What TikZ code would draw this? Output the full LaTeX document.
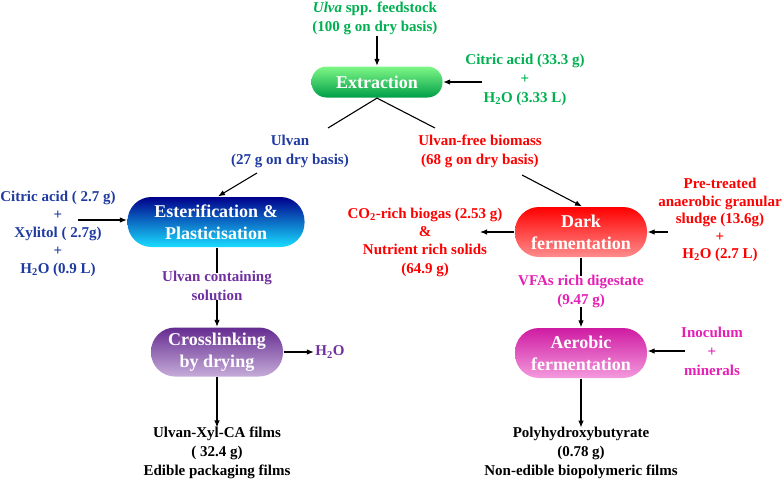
\documentclass[tikz,border=0pt]{standalone}
\usepackage{fontspec}
\setmainfont{Liberation Serif}
\usetikzlibrary{arrows.meta, positioning, calc}
\definecolor{tgreen}{HTML}{00B050}
\definecolor{tblue}{HTML}{1F3AA0}
\definecolor{tred}{HTML}{FF0000}
\definecolor{tpurple}{HTML}{7030A0}
\definecolor{tpink}{HTML}{E61EB4}
\tikzset{
  every picture/.style={line width=1.2pt},
  box/.style={rounded corners=24pt, text=white, align=center, inner sep=3pt,
    minimum width=132pt, minimum height=50pt, font=\fontsize{18}{22}\selectfont\bfseries},
  gradgreen/.style={top color=green!45!white!90!tgreen, middle color=tgreen!85!white, bottom color=tgreen!90!black},
  gradblue/.style={top color=blue!55!black, middle color=blue!40!cyan!80!black, bottom color=cyan!85!blue!90!white},
  gradred/.style={top color=red, middle color=red!95!white, bottom color=red!45!white},
  gradpurple/.style={top color=tpurple!90!black, middle color=tpurple!75!white, bottom color=tpurple!40!white},
  gradpink/.style={top color=tpink!90!black, middle color=tpink!85!white, bottom color=tpink!45!white},
  arrow/.style={-{Latex[length=7pt, width=5.5pt]}, line width=1.1pt},
  link/.style={line width=1.1pt},
  note/.style={font=\fontsize{15}{19}\selectfont\bfseries, align=center, inner sep=1pt},
}
\begin{document}
\begin{tikzpicture}[x=1pt, y=-1pt]
\useasboundingbox (0,0) rectangle (784,480);
  % extraction
  \node[note, text=tgreen] (feed) at (375,18) {\textit{Ulva} spp. feedstock\\(100 g on dry basis)};
  \node[box, gradgreen, minimum width=131pt, minimum height=31pt, rounded corners=15pt] (ext) at (377,82) {Extraction};
  \node[note, text=tgreen] (citA) at (525,80) {Citric acid (33.3 g)\\+\\H\textsubscript{2}O (3.33 L)};
  \coordinate (citAin) at (482,82);
  \draw[arrow] (feed.south -| ext.north) -- (ext.north);
  \draw[arrow] (citAin) -- (ext.east);
  \node[note, text=tblue] (ulvan) at (290,151) {Ulvan\\(27 g on dry basis)};
  \node[note, text=tred] (ulvfree) at (480,151) {Ulvan-free biomass\\(68 g on dry basis)};
  \coordinate (ulvL) at (328,128);
  \coordinate (ulvR) at (435,128);
  \draw[link] (ulvL) -- (ext.south) -- (ulvR);
  % ulvan branch
  \node[box, gradblue, minimum width=177pt] (est) at (216,222) {Esterification \&\\Plasticisation};
  \node[note, text=tblue, font=\fontsize{15}{18}\selectfont\bfseries] (citB) at (58,234) {Citric acid ( 2.7 g)\\+\\Xylitol ( 2.7g)\\+\\H\textsubscript{2}O (0.9 L)};
  \coordinate (citBin) at (78,220);
  \coordinate (ulvanout) at (257,173);
  \draw[arrow] (ulvanout) -- ([xshift=2pt]est.north);
  \draw[arrow] (citBin) -- (citBin -| est.west);
  \node[note, text=tpurple] (ulvsol) at (217,286) {Ulvan containing\\solution};
  \node[box, gradpurple, minimum height=49pt] (cross) at (217,352) {Crosslinking\\by drying};
  \node[note, text=tpurple] (water) at (330,352) {H\textsubscript{2}O};
  \node[note] (films) at (217,453) {Ulvan-Xyl-CA films\\( 32.4 g)\\Edible packaging films};
  \draw[link] (est.south -| ulvsol) -- ([yshift=-3pt]ulvsol.north);
  \draw[arrow] ([yshift=2pt]ulvsol.south) -- (cross.north);
  \draw[arrow] (cross.east) -- (water.west);
  \draw[arrow] (cross.south) -- ([yshift=-2pt]films.north);
  % biomass branch
  \node[box, gradred] (dark) at (581,232) {Dark\\fermentation};
  \node[note, text=tred, font=\fontsize{15}{18.3}\selectfont\bfseries] (co2) at (425,242) {CO\textsubscript{2}-rich biogas (2.53 g)\\\&\\Nutrient rich solids\\(64.9 g)};
  \node[note, text=tred, font=\fontsize{15}{17.5}\selectfont\bfseries] (sludge) at (720,220) {Pre-treated\\anaerobic granular\\sludge (13.6g)\\+\\H\textsubscript{2}O (2.7 L)};
  \coordinate (ulvfreeout) at (522,175);
  \coordinate (co2in) at (480,232);
  \coordinate (sludgein) at (668,232);
  \draw[arrow] (ulvfreeout) -- ([xshift=1pt]dark.north);
  \draw[arrow] (dark.west) -- (co2in);
  \draw[arrow] (sludgein) -- (dark.east);
  \node[note, text=tpink] (vfa) at (581,291) {VFAs rich digestate\\(9.47 g)};
  \node[box, gradpink] (aer) at (581,353) {Aerobic\\fermentation};
  \node[note, text=tpink] (inoc) at (712,351) {Inoculum\\+\\minerals};
  \node[note] (phb) at (581,453) {Polyhydroxybutyrate\\(0.78 g)\\Non-edible biopolymeric films};
  \coordinate (inocin) at (685,351);
  \draw[link] (dark.south) -- ([yshift=-3pt]vfa.north);
  \draw[arrow] ([yshift=2pt]vfa.south) -- (aer.north);
  \draw[arrow] (inocin) -- (inocin -| aer.east);
  \draw[arrow] (aer.south) -- ([yshift=-2pt]phb.north);
\end{tikzpicture}
\end{document}
